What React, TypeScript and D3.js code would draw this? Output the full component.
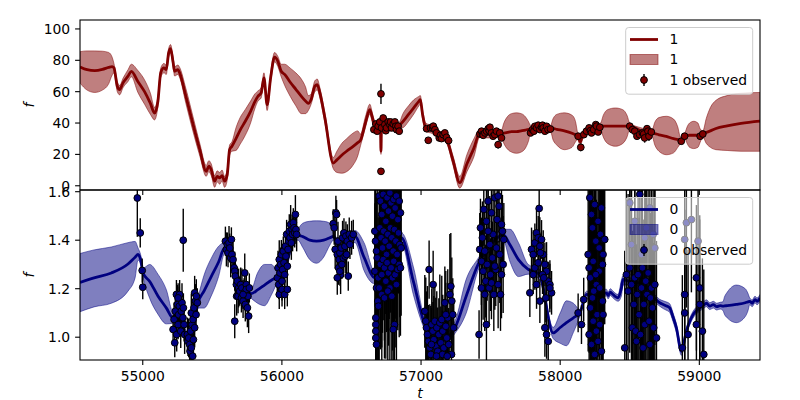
import React from "react";
import * as d3 from "d3";

type Row = [number, number, number, number];
type Obs = [number, number, number];

const xTicks = [55000, 56000, 57000, 58000, 59000];
const topYTicks = [0, 20, 40, 60, 80, 100];
const botYTicks = [1.0, 1.2, 1.4, 1.6];
const xDomain: [number, number] = [54549, 59436];
const topYDomain: [number, number] = [-2.7, 105.7];
const botYDomain: [number, number] = [0.906, 1.607];
const topLabels = ["1", "1", "1 observed"];
const botLabels = ["0", "0", "0 observed"];

// [t, mean, lower, upper]
const model1: Row[] = [
  [54549, 75.8, 65.5, 85.5], [54600, 74.0, 61.0, 86.0], [54655, 73.4, 59.5, 86.0], [54710, 74.2, 61.0, 85.8],
  [54755, 75.5, 65.0, 85.0], [54780, 76.0, 70.5, 82.0], [54793, 75.2, 72.0, 78.0], [54817, 63.5, 60.0, 66.5],
  [54834, 61.3, 58.0, 64.0], [54858, 65.6, 62.5, 68.5], [54894, 69.9, 66.5, 74.0], [54918, 73.0, 69.5, 77.5],
  [54965, 66.5, 59.5, 73.5], [55013, 60.0, 52.0, 67.5], [55055, 52.5, 45.5, 59.0], [55085, 46.4, 42.0, 50.0],
  [55109, 53.9, 50.5, 57.0], [55129, 72.0, 69.0, 75.0], [55152, 75.2, 72.0, 78.0], [55169, 74.1, 71.0, 77.0],
  [55186, 84.7, 82.0, 87.5], [55200, 87.5, 84.5, 90.0], [55217, 79.4, 76.5, 82.5], [55229, 73.0, 70.0, 76.0],
  [55253, 74.1, 71.0, 77.0], [55265, 72.0, 69.0, 75.5], [55310, 57.0, 52.5, 62.0], [55360, 39.6, 35.0, 44.5],
  [55410, 23.0, 19.0, 27.0], [55456, 9.2, 6.0, 13.0], [55475, 12.5, 9.0, 16.0], [55492, 10.3, 6.5, 14.0],
  [55517, 2.9, -1.0, 6.5], [55535, 6.0, 2.5, 9.5], [55553, 5.0, 1.0, 8.5], [55570, 6.5, 3.0, 10.0],
  [55588, 2.9, -1.0, 6.0], [55607, 7.1, 3.5, 10.5], [55624, 23.0, 19.5, 26.0], [55641, 25.2, 22.0, 28.0],
  [55670, 30.0, 22.5, 37.0], [55700, 35.5, 26.5, 43.5], [55736, 41.0, 32.0, 48.5], [55775, 47.5, 40.0, 54.0],
  [55805, 53.5, 49.0, 58.5], [55828, 57.1, 54.0, 60.5], [55851, 59.2, 56.0, 62.5], [55871, 68.8, 66.0, 72.0],
  [55894, 51.7, 48.0, 55.0], [55919, 68.8, 66.0, 72.0], [55947, 82.0, 79.0, 85.0], [55971, 79.4, 76.0, 82.5],
  [55995, 73.0, 69.5, 77.5], [56020, 71.0, 64.0, 77.5], [56060, 66.0, 57.0, 75.0], [56100, 61.5, 51.0, 72.0],
  [56140, 57.0, 46.0, 68.0], [56170, 54.0, 46.0, 63.0], [56190, 52.5, 48.0, 57.5], [56210, 55.0, 52.0, 58.5],
  [56237, 63.5, 60.0, 67.0], [56254, 64.5, 61.0, 68.0], [56273, 59.2, 56.0, 62.5], [56309, 43.2, 40.0, 46.5],
  [56369, 14.5, 11.0, 18.0], [56395, 16.5, 8.5, 22.0], [56430, 19.5, 8.0, 27.0], [56465, 22.0, 9.0, 30.0],
  [56510, 25.0, 13.0, 33.5], [56545, 27.5, 19.0, 35.0], [56565, 29.0, 25.5, 33.0], [56600, 40.0, 37.0, 44.0],
  [56632, 48.5, 45.5, 52.0], [56651, 43.2, 40.0, 46.0], [56668, 38.5, 36.0, 41.0], [56690, 37.5, 35.5, 39.5],
  [56708, 37.5, 35.5, 39.5], [56712, 22.0, 20.0, 24.0], [56716, 37.5, 35.5, 39.5], [56760, 37.0, 35.0, 39.0],
  [56800, 37.5, 35.5, 39.5], [56843, 38.5, 36.5, 40.5], [56870, 41.0, 37.0, 46.0], [56910, 45.5, 41.0, 51.0],
  [56950, 50.0, 46.0, 55.0], [56985, 54.0, 51.0, 57.0], [56995, 54.9, 52.0, 57.5], [57010, 46.0, 43.0, 49.0],
  [57034, 37.0, 34.5, 40.0], [57075, 35.8, 33.5, 38.5], [57130, 32.5, 30.0, 35.0], [57183, 29.4, 27.0, 32.0],
  [57230, 16.0, 13.0, 19.0], [57278, 2.0, -1.5, 6.0], [57330, 14.0, 9.0, 20.0], [57380, 24.0, 18.5, 30.0],
  [57422, 33.7, 31.0, 36.0], [57470, 33.0, 30.5, 35.5], [57518, 32.6, 30.5, 35.0], [57578, 33.0, 31.0, 35.5],
  [57595, 33.5, 27.0, 40.0], [57620, 34.0, 23.5, 44.0], [57650, 34.5, 21.5, 46.0], [57686, 34.5, 20.7, 46.5],
  [57720, 35.0, 21.5, 46.0], [57750, 35.5, 24.0, 44.0], [57772, 36.0, 28.5, 41.0], [57787, 36.0, 33.5, 38.5],
  [57860, 37.0, 35.0, 39.0], [57930, 36.5, 34.5, 38.5], [57950, 36.5, 29.0, 43.0], [57975, 36.0, 26.0, 45.5],
  [58030, 35.0, 23.0, 46.5], [58085, 33.5, 24.5, 45.0], [58110, 32.5, 28.0, 41.0], [58125, 31.6, 29.5, 34.0],
  [58145, 28.0, 25.0, 31.0], [58160, 32.0, 29.5, 34.5], [58220, 36.5, 34.5, 38.5], [58290, 38.0, 36.0, 40.0],
  [58310, 38.0, 31.0, 45.0], [58340, 38.0, 27.0, 48.5], [58397, 38.0, 25.2, 49.6], [58450, 38.0, 27.0, 48.5],
  [58480, 38.0, 31.0, 45.0], [58500, 38.0, 36.0, 40.0], [58580, 35.0, 33.0, 37.0], [58660, 33.5, 31.5, 35.5],
  [58680, 33.3, 26.0, 40.5], [58710, 32.5, 22.0, 43.5], [58763, 31.5, 19.8, 44.3], [58815, 30.0, 21.0, 42.5],
  [58845, 29.5, 24.5, 37.5], [58865, 29.0, 27.0, 31.0], [58898, 31.6, 29.5, 34.0], [58912, 32.0, 27.0, 37.5],
  [58930, 32.2, 24.5, 40.0], [58960, 32.2, 23.7, 41.1], [58990, 32.2, 24.5, 40.0], [59005, 32.0, 27.5, 36.5],
  [59025, 33.0, 31.0, 35.0], [59050, 34.0, 27.0, 43.0], [59080, 35.0, 24.5, 50.0], [59120, 36.5, 23.0, 54.5],
  [59200, 38.2, 22.5, 57.5], [59300, 39.8, 22.0, 59.0], [59436, 41.2, 22.0, 59.5],
];

// [t, f, err]
const observed1: Obs[] = [
  [56661, 35.8, 1.5], [56675, 39.4, 1.5], [56685, 34.8, 1.5], [56692, 38.0, 1.5], [56704, 40.7, 1.5],
  [56712, 58.6, 6.5], [56712, 9.2, 1.5], [56716, 36.9, 1.5], [56728, 43.2, 1.5], [56740, 39.0, 1.5],
  [56747, 35.1, 1.5], [56752, 36.9, 1.5], [56764, 40.7, 1.5], [56776, 39.0, 1.5], [56781, 40.7, 1.5],
  [56788, 36.9, 1.5], [56800, 39.4, 1.5], [56812, 40.7, 1.5], [56819, 38.0, 1.5], [56824, 35.8, 1.5],
  [56835, 38.0, 1.5], [56843, 34.8, 1.5],
  [57040, 36.4, 1.5], [57052, 29.0, 1.5], [57068, 36.9, 1.5], [57083, 36.9, 1.5], [57088, 38.0, 1.5],
  [57100, 35.8, 1.5], [57111, 33.7, 1.5], [57131, 30.5, 1.5], [57140, 32.2, 1.5], [57147, 30.1, 1.5],
  [57159, 32.6, 1.5], [57171, 33.7, 1.5], [57183, 30.9, 1.5], [57198, 28.8, 1.5],
  [57423, 33.0, 1.5], [57435, 34.8, 1.5], [57442, 32.6, 1.5], [57447, 32.2, 1.5], [57459, 33.7, 1.5],
  [57471, 34.8, 1.5], [57483, 36.4, 1.5], [57490, 35.1, 1.5], [57495, 37.3, 1.5], [57506, 33.7, 1.5],
  [57518, 31.6, 1.5], [57530, 32.6, 1.5], [57542, 34.8, 1.5], [57554, 26.2, 2.5], [57566, 33.7, 1.5],
  [57578, 30.5, 1.5],
  [57787, 33.7, 1.5], [57801, 35.8, 1.5], [57811, 34.8, 1.5], [57818, 37.9, 1.5], [57830, 36.9, 1.5],
  [57842, 38.6, 1.5], [57854, 35.8, 1.5], [57866, 37.3, 1.5], [57873, 38.6, 1.5], [57878, 36.9, 1.5],
  [57890, 34.8, 1.5], [57902, 37.9, 1.5], [57913, 35.8, 1.5], [57930, 36.2, 1.5],
  [58129, 31.6, 1.5], [58148, 24.5, 2.5], [58170, 32.6, 1.5], [58189, 34.8, 1.5], [58208, 36.9, 1.5],
  [58218, 35.1, 1.5], [58225, 33.7, 1.5], [58241, 35.8, 1.5], [58256, 39.0, 1.5], [58261, 38.0, 1.5],
  [58273, 34.3, 1.5], [58285, 37.3, 1.5],
  [58500, 38.0, 1.5], [58519, 35.8, 1.5], [58536, 34.8, 1.5], [58552, 31.6, 1.5], [58571, 32.6, 1.5],
  [58591, 33.7, 1.5], [58600, 33.0, 1.5], [58607, 30.5, 3.0], [58624, 36.4, 1.5], [58631, 34.8, 1.5],
  [58638, 31.6, 3.0], [58655, 34.3, 1.5],
  [58870, 28.4, 1.5], [58894, 31.6, 1.5], [59006, 31.6, 1.5], [59025, 33.0, 1.5],
];

const model0: Row[] = [
  [54549, 1.226, 1.105, 1.345], [54650, 1.245, 1.125, 1.360], [54774, 1.265, 1.140, 1.372], [54894, 1.302, 1.190, 1.390],
  [54945, 1.330, 1.245, 1.395], [54966, 1.341, 1.318, 1.368], [54985, 1.320, 1.300, 1.340], [55002, 1.265, 1.248, 1.285],
  [55050, 1.230, 1.160, 1.300], [55109, 1.170, 1.095, 1.260], [55170, 1.120, 1.055, 1.195], [55217, 1.080, 1.058, 1.105],
  [55250, 1.100, 1.080, 1.120], [55300, 1.020, 1.000, 1.040], [55340, 0.990, 0.970, 1.010], [55370, 1.060, 1.040, 1.080],
  [55397, 1.140, 1.120, 1.160], [55440, 1.190, 1.120, 1.255], [55492, 1.250, 1.170, 1.325], [55545, 1.310, 1.250, 1.375],
  [55588, 1.368, 1.345, 1.390], [55630, 1.370, 1.350, 1.390], [55680, 1.250, 1.230, 1.270], [55730, 1.200, 1.180, 1.220],
  [55780, 1.180, 1.160, 1.200], [55825, 1.195, 1.140, 1.265], [55875, 1.215, 1.130, 1.300], [55925, 1.235, 1.175, 1.300],
  [55971, 1.250, 1.230, 1.270], [56020, 1.280, 1.260, 1.300], [56070, 1.380, 1.360, 1.400], [56115, 1.420, 1.400, 1.445],
  [56150, 1.415, 1.370, 1.470], [56200, 1.400, 1.320, 1.478], [56249, 1.396, 1.305, 1.480], [56300, 1.400, 1.330, 1.478],
  [56345, 1.410, 1.380, 1.470], [56369, 1.416, 1.400, 1.430], [56393, 1.390, 1.370, 1.410], [56420, 1.360, 1.340, 1.380],
  [56470, 1.400, 1.380, 1.420], [56525, 1.416, 1.390, 1.440], [56590, 1.330, 1.275, 1.390], [56668, 1.245, 1.220, 1.270],
  [56760, 1.300, 1.280, 1.320], [56860, 1.409, 1.385, 1.430], [56945, 1.230, 1.175, 1.290], [57027, 1.052, 1.030, 1.075],
  [57130, 0.980, 0.960, 1.000], [57243, 1.038, 1.015, 1.065], [57325, 1.170, 1.100, 1.240], [57410, 1.300, 1.275, 1.325],
  [57500, 1.380, 1.360, 1.400], [57590, 1.423, 1.400, 1.445], [57640, 1.380, 1.310, 1.445], [57700, 1.320, 1.250, 1.390],
  [57770, 1.280, 1.260, 1.300], [57850, 1.260, 1.240, 1.280], [57949, 1.018, 0.995, 1.040], [58000, 1.040, 0.975, 1.100],
  [58045, 1.060, 0.965, 1.150], [58095, 1.080, 1.020, 1.140], [58141, 1.100, 1.085, 1.115], [58189, 1.176, 1.160, 1.190],
  [58250, 1.170, 1.155, 1.185], [58300, 1.180, 1.165, 1.195], [58332, 1.183, 1.170, 1.198], [58345, 1.172, 1.158, 1.186],
  [58360, 1.186, 1.172, 1.200], [58380, 1.176, 1.162, 1.190], [58395, 1.168, 1.154, 1.182], [58416, 1.162, 1.148, 1.176],
  [58440, 1.203, 1.170, 1.235], [58452, 1.238, 1.215, 1.255], [58500, 1.230, 1.215, 1.245], [58600, 1.220, 1.205, 1.235],
  [58680, 1.160, 1.145, 1.175], [58715, 1.142, 1.128, 1.156], [58740, 1.135, 1.118, 1.150], [58760, 1.130, 1.112, 1.146],
  [58787, 1.121, 1.102, 1.138], [58810, 1.085, 1.066, 1.102], [58835, 1.039, 1.020, 1.056], [58871, 0.942, 0.925, 0.960],
  [58907, 1.025, 1.010, 1.040], [58955, 1.093, 1.079, 1.107], [59000, 1.120, 1.106, 1.134], [59030, 1.132, 1.118, 1.146],
  [59051, 1.140, 1.126, 1.154], [59075, 1.128, 1.114, 1.142], [59100, 1.134, 1.120, 1.148], [59125, 1.126, 1.112, 1.140],
  [59150, 1.130, 1.116, 1.144], [59170, 1.128, 1.110, 1.146], [59180, 1.129, 1.095, 1.165], [59200, 1.130, 1.080, 1.185],
  [59266, 1.135, 1.060, 1.215], [59330, 1.142, 1.085, 1.200], [59350, 1.146, 1.110, 1.180], [59362, 1.148, 1.134, 1.162],
  [59380, 1.140, 1.126, 1.154], [59400, 1.155, 1.141, 1.169], [59415, 1.148, 1.134, 1.162], [59436, 1.162, 1.148, 1.176],
];

const observed0: Obs[] = [
  // 54960-55300
  [54961, 1.574, 0.16], [54982, 1.430, 0.06], [54996, 1.275, 0.05], [55000, 1.206, 0.05], [55291, 1.400, 0.13],
  [55218, 1.032, 0.06], [55225, 1.073, 0.07], [55230, 0.977, 0.06], [55234, 1.107, 0.08], [55242, 1.176, 0.06],
  [55244, 1.011, 0.07], [55249, 1.135, 0.08], [55254, 1.052, 0.06], [55258, 1.093, 0.07], [55263, 1.128, 0.08],
  [55265, 1.176, 0.06], [55273, 1.025, 0.07], [55277, 1.107, 0.06], [55282, 1.142, 0.08], [55289, 1.080, 0.07],
  [55292, 1.121, 0.06], [55297, 1.052, 0.07], [55301, 1.011, 0.08], [55254, 1.162, 0.06],
  [55321, 1.011, 0.07], [55325, 0.983, 0.06], [55330, 0.997, 0.08], [55337, 0.970, 0.07], [55340, 0.942, 0.06],
  [55344, 1.025, 0.07], [55349, 1.100, 0.08], [55349, 0.956, 0.06], [55354, 1.052, 0.07], [55359, 0.922, 0.06],
  [55361, 1.073, 0.08], [55364, 0.990, 0.07], [55368, 1.121, 0.06], [55373, 1.183, 0.07], [55373, 1.039, 0.08],
  [55378, 1.149, 0.07], [55383, 1.093, 0.06], [55385, 1.169, 0.07], [55392, 1.142, 0.06],
  // 55590-55770
  [55594, 1.396, 0.06], [55601, 1.362, 0.07], [55608, 1.382, 0.05], [55613, 1.348, 0.06], [55620, 1.389, 0.07],
  [55625, 1.368, 0.06], [55632, 1.327, 0.08], [55637, 1.403, 0.05], [55641, 1.341, 0.06], [55649, 1.320, 0.07],
  [55656, 1.286, 0.06], [55661, 1.272, 0.08], [55665, 1.252, 0.07], [55673, 1.217, 0.06], [55675, 1.169, 0.08],
  [55680, 1.231, 0.06], [55685, 1.169, 0.07], [55689, 1.203, 0.08], [55697, 1.190, 0.06], [55704, 1.217, 0.07],
  [55709, 1.162, 0.06], [55713, 1.203, 0.08], [55721, 1.149, 0.07], [55728, 1.183, 0.06], [55733, 1.265, 0.08],
  [55737, 1.135, 0.07], [55744, 1.217, 0.06], [55744, 1.197, 0.07], [55752, 1.121, 0.08], [55756, 1.169, 0.06],
  [55761, 1.087, 0.07], [55766, 1.203, 0.06], [55661, 1.066, 0.07], [55721, 1.176, 0.06],
  // 55960-56110
  [55967, 1.245, 0.06], [55972, 1.286, 0.07], [55977, 1.217, 0.06], [55981, 1.320, 0.08], [55986, 1.265, 0.06],
  [55991, 1.300, 0.07], [55996, 1.341, 0.06], [56001, 1.231, 0.08], [56005, 1.279, 0.07], [56010, 1.355, 0.06],
  [56015, 1.307, 0.07], [56020, 1.258, 0.08], [56025, 1.375, 0.06], [56029, 1.334, 0.07], [56034, 1.424, 0.06],
  [56039, 1.293, 0.08], [56044, 1.362, 0.07], [56049, 1.396, 0.06], [56053, 1.437, 0.07], [56058, 1.410, 0.06],
  [56063, 1.465, 0.08], [56068, 1.389, 0.07], [56073, 1.444, 0.06], [56077, 1.424, 0.07], [56082, 1.472, 0.06],
  [56087, 1.451, 0.07], [56092, 1.430, 0.06], [56097, 1.506, 0.08], [56101, 1.444, 0.06], [56106, 1.424, 0.07],
  [55981, 1.176, 0.06], [56001, 1.197, 0.07], [56020, 1.176, 0.06], [56039, 1.197, 0.07],
  // 56370-56510
  [56369, 1.468, 0.06], [56376, 1.451, 0.07], [56383, 1.362, 0.08], [56388, 1.513, 0.07], [56393, 1.506, 0.06],
  [56398, 1.341, 0.07], [56403, 1.396, 0.08], [56407, 1.286, 0.07], [56412, 1.320, 0.06], [56417, 1.348, 0.07],
  [56422, 1.258, 0.08], [56426, 1.368, 0.07], [56431, 1.300, 0.06], [56436, 1.410, 0.07], [56441, 1.327, 0.08],
  [56446, 1.430, 0.06], [56453, 1.375, 0.07], [56455, 1.334, 0.07], [56460, 1.417, 0.06], [56465, 1.341, 0.08],
  [56470, 1.396, 0.07], [56477, 1.252, 0.06], [56484, 1.424, 0.07], [56489, 1.382, 0.06], [56501, 1.410, 0.07],
  [56513, 1.424, 0.06], [56398, 1.245, 0.07], [56417, 1.272, 0.06],
  // 56660-56860
  [56675, 1.080, 0.30], [56675, 1.052, 0.25], [56675, 1.025, 0.35], [56675, 0.997, 0.28], [56680, 0.970, 0.30],
  [56668, 1.437, 0.25], [56673, 1.396, 0.30], [56680, 1.355, 0.22], [56685, 1.327, 0.35], [56668, 1.272, 0.28],
  [56680, 1.203, 0.30], [56692, 1.245, 0.25], [56692, 1.135, 0.32], [56699, 1.582, 0.30], [56708, 1.561, 0.35],
  [56718, 1.506, 0.28], [56728, 1.589, 0.40], [56737, 1.540, 0.30], [56747, 1.478, 0.25], [56756, 1.575, 0.35],
  [56766, 1.520, 0.30], [56776, 1.595, 0.28], [56785, 1.554, 0.35], [56795, 1.499, 0.30], [56804, 1.568, 0.25],
  [56814, 1.533, 0.32], [56823, 1.582, 0.28], [56833, 1.485, 0.30], [56843, 1.561, 0.35], [56852, 1.513, 0.25],
  [56704, 1.451, 0.30], [56713, 1.410, 0.28], [56723, 1.368, 0.35], [56732, 1.437, 0.25], [56742, 1.396, 0.30],
  [56752, 1.341, 0.32], [56761, 1.424, 0.28], [56771, 1.375, 0.30], [56780, 1.451, 0.35], [56790, 1.410, 0.25],
  [56800, 1.355, 0.30], [56809, 1.444, 0.28], [56819, 1.396, 0.32], [56828, 1.341, 0.30], [56838, 1.430, 0.25],
  [56847, 1.382, 0.30], [56857, 1.368, 0.28], [56708, 1.300, 0.35], [56718, 1.258, 0.30], [56728, 1.320, 0.25],
  [56737, 1.286, 0.30], [56747, 1.231, 0.32], [56756, 1.307, 0.28], [56766, 1.265, 0.30], [56776, 1.203, 0.35],
  [56785, 1.286, 0.25], [56795, 1.245, 0.30], [56804, 1.313, 0.28], [56814, 1.258, 0.30], [56823, 1.217, 0.32],
  [56833, 1.279, 0.25], [56843, 1.300, 0.30], [56852, 1.286, 0.28], [56718, 1.176, 0.30], [56737, 1.162, 0.25],
  [56761, 1.190, 0.30], [56790, 1.169, 0.28], [56809, 1.052, 0.20], [56800, 1.032, 0.22], [56699, 1.203, 0.30],
  [56689, 1.149, 0.25], [56694, 1.128, 0.30],
  // 57020-57240
  [57058, 1.279, 0.12], [57087, 1.217, 0.14], [57027, 1.107, 0.15], [57034, 1.066, 0.18], [57039, 1.039, 0.15],
  [57046, 1.011, 0.20], [57053, 0.983, 0.15], [57063, 0.956, 0.18], [57070, 0.929, 0.20], [57077, 1.052, 0.15],
  [57085, 1.025, 0.12], [57092, 0.990, 0.18], [57099, 1.066, 0.15], [57106, 0.963, 0.20], [57113, 1.039, 0.15],
  [57120, 0.942, 0.18], [57128, 1.011, 0.15], [57135, 1.059, 0.20], [57142, 0.977, 0.15], [57149, 1.073, 0.18],
  [57156, 1.025, 0.15], [57164, 0.956, 0.20], [57171, 1.142, 0.15], [57178, 1.045, 0.18], [57185, 0.997, 0.15],
  [57192, 1.080, 0.20], [57199, 0.970, 0.15], [57207, 1.176, 0.25], [57214, 1.210, 0.22], [57221, 1.149, 0.18],
  [57228, 1.093, 0.15], [57235, 1.039, 0.12], [57219, 0.929, 0.15], [57154, 0.929, 0.18], [57111, 0.922, 0.15],
  [57075, 0.970, 0.15], [57178, 1.093, 0.18], [57188, 0.922, 0.15],
  // 57410-57600
  [57417, 1.011, 0.10], [57422, 1.362, 0.15], [57427, 1.451, 0.12], [57434, 1.313, 0.18], [57441, 1.410, 0.15],
  [57446, 1.272, 0.20], [57451, 1.527, 0.15], [57458, 1.355, 0.18], [57465, 1.231, 0.15], [57470, 1.478, 0.20],
  [57475, 1.300, 0.15], [57482, 1.561, 0.18], [57489, 1.203, 0.15], [57494, 1.382, 0.20], [57499, 1.258, 0.15],
  [57506, 1.513, 0.18], [57513, 1.327, 0.15], [57518, 1.424, 0.20], [57523, 1.176, 0.15], [57530, 1.575, 0.18],
  [57537, 1.279, 0.15], [57542, 1.368, 0.20], [57547, 1.485, 0.15], [57554, 1.217, 0.18], [57561, 1.540, 0.15],
  [57566, 1.341, 0.20], [57571, 1.176, 0.15], [57578, 1.258, 0.18], [57585, 1.437, 0.15], [57590, 1.300, 0.20],
  [57595, 1.403, 0.15], [57434, 1.203, 0.18], [57458, 1.176, 0.15], [57482, 1.437, 0.20], [57506, 1.224, 0.15],
  [57530, 1.293, 0.18], [57554, 1.582, 0.15], [57578, 1.465, 0.20], [57470, 1.052, 0.15],
  // 57780-57940
  [57849, 1.531, 0.10], [57794, 1.362, 0.09], [57806, 1.341, 0.10], [57818, 1.389, 0.08], [57830, 1.430, 0.10],
  [57842, 1.410, 0.09], [57854, 1.375, 0.12], [57866, 1.403, 0.08], [57878, 1.341, 0.10], [57890, 1.300, 0.09],
  [57902, 1.272, 0.12], [57914, 1.231, 0.08], [57926, 1.217, 0.10], [57938, 1.183, 0.09], [57782, 1.183, 0.10],
  [57806, 1.258, 0.08], [57830, 1.217, 0.10], [57854, 1.149, 0.09], [57890, 1.039, 0.12], [57902, 1.011, 0.10],
  [57914, 0.983, 0.09], [57926, 1.203, 0.10], [57873, 1.258, 0.08], [57897, 1.162, 0.10], [57818, 1.286, 0.09],
  [57842, 1.307, 0.10], [57858, 1.348, 0.08], [57882, 1.245, 0.10],
  // 58120-58320
  [58129, 1.100, 0.08], [58153, 1.052, 0.08], [58169, 1.155, 0.09], [58201, 1.341, 0.40], [58208, 1.286, 0.35],
  [58213, 1.575, 0.45], [58217, 1.245, 0.40], [58225, 1.506, 0.35], [58232, 1.451, 0.45], [58237, 1.313, 0.40],
  [58241, 1.190, 0.35], [58248, 1.547, 0.45], [58256, 1.396, 0.40], [58260, 1.217, 0.35], [58265, 1.093, 0.45],
  [58272, 1.478, 0.40], [58280, 1.272, 0.35], [58284, 1.052, 0.45], [58289, 1.424, 0.40], [58296, 1.533, 0.35],
  [58304, 1.149, 0.45], [58308, 1.341, 0.40], [58313, 1.403, 0.35], [58208, 1.011, 0.45], [58225, 0.970, 0.40],
  [58248, 0.929, 0.35], [58272, 0.983, 0.45], [58296, 0.942, 0.40], [58217, 1.121, 0.35], [58237, 1.066, 0.45],
  [58260, 1.025, 0.40], [58284, 1.203, 0.35], [58308, 1.093, 0.45], [58232, 1.162, 0.40], [58256, 1.258, 0.35],
  [58280, 1.368, 0.45], [58304, 1.300, 0.40], [58320, 1.403, 0.35],
  // 58460-58700
  [58464, 0.956, 0.40], [58476, 1.258, 0.45], [58488, 1.190, 0.40], [58500, 1.286, 0.35], [58512, 1.217, 0.45],
  [58519, 1.039, 0.40], [58529, 1.135, 0.35], [58536, 1.245, 0.45], [58543, 1.025, 0.40], [58553, 1.176, 0.35],
  [58560, 1.258, 0.45], [58567, 1.093, 0.40], [58577, 1.011, 0.35], [58584, 1.203, 0.45], [58591, 1.286, 0.40],
  [58601, 1.135, 0.35], [58608, 1.052, 0.45], [58615, 1.231, 0.40], [58624, 1.176, 0.35], [58632, 1.265, 0.45],
  [58639, 1.066, 0.40], [58648, 1.162, 0.35], [58656, 1.203, 0.45], [58663, 1.121, 0.40], [58672, 1.039, 0.35],
  [58680, 1.217, 0.45], [58692, 0.997, 0.40], [58644, 0.970, 0.35], [58596, 0.956, 0.45], [58548, 0.983, 0.40],
  [58500, 1.554, 0.35], [58536, 1.478, 0.45], [58572, 1.589, 0.40], [58608, 1.410, 0.35], [58644, 1.533, 0.45],
  [58680, 1.368, 0.40], [58512, 1.382, 0.35], [58584, 1.341, 0.45], [58620, 1.451, 0.40], [58668, 1.424, 0.35],
  // 58870-59040
  [58895, 1.176, 0.35], [58895, 1.100, 0.30], [58919, 1.011, 0.35], [58979, 1.245, 0.30], [58979, 1.052, 0.35],
  [59003, 1.203, 0.30], [59003, 1.135, 0.35], [59022, 1.025, 0.30], [59032, 0.929, 0.35], [58878, 0.956, 0.30],
  [58907, 1.472, 0.35], [58943, 1.485, 0.30], [58991, 1.396, 0.35], [58895, 1.403, 0.30],
];

const FONT = "DejaVu Sans, sans-serif";
const FS = 13.9;
const L = 80, R = 760;

interface PanelProps {
  id: string;
  rows: Row[];
  obs: Obs[];
  yDomain: [number, number];
  top: number;
  bottom: number;
  lineColor: string;
  yTicks: number[];
  fmt: (v: number) => string;
  labels: string[];
  legendAlpha: number;
  xLabels: boolean;
}

function Panel(p: PanelProps) {
  const x = d3.scaleLinear().domain(xDomain).range([L, R]);
  const y = d3.scaleLinear().domain(p.yDomain).range([p.bottom, p.top]);
  const area = d3.area<Row>().x(d => x(d[0])).y0(d => y(d[2])).y1(d => y(d[3])).curve(d3.curveMonotoneX);
  const line = d3.line<Row>().x(d => x(d[0])).y(d => y(d[1])).curve(d3.curveMonotoneX);
  const lx = 625.7, ly = p.top + 7.5, lw = 127, lh = 66.7;
  const rowY = [ly + 12, ly + 32, ly + 52.5];
  return (
    <g>
      <defs>
        <clipPath id={p.id}>
          <rect x={L} y={p.top} width={R - L} height={p.bottom - p.top} />
        </clipPath>
      </defs>
      <g clipPath={`url(#${p.id})`}>
        <path d={area(p.rows) || ""} fill={p.lineColor} fillOpacity={0.5} stroke={p.lineColor} strokeOpacity={0.5} strokeWidth={1} />
        <path d={line(p.rows) || ""} fill="none" stroke={p.lineColor} strokeWidth={2.8} strokeLinejoin="round" />
        {p.obs.map((d, i) => (
          <line key={"e" + i} x1={x(d[0])} x2={x(d[0])} y1={y(d[1] - d[2])} y2={y(d[1] + d[2])} stroke="#000" strokeWidth={1.4} />
        ))}
        {p.obs.map((d, i) => (
          <circle key={"c" + i} cx={x(d[0])} cy={y(d[1])} r={3.4} fill={p.lineColor} stroke="#000" strokeWidth={1} />
        ))}
      </g>
      <rect x={L} y={p.top} width={R - L} height={p.bottom - p.top} fill="none" stroke="#000" strokeWidth={1.1} />
      {p.yTicks.map(t => (
        <g key={"y" + t}>
          <line x1={L - 4.9} x2={L} y1={y(t)} y2={y(t)} stroke="#000" strokeWidth={1.1} />
          <text x={L - 9.8} y={y(t)} dy="0.35em" textAnchor="end" fontFamily={FONT} fontSize={FS} fill="#000">{p.fmt(t)}</text>
        </g>
      ))}
      {xTicks.map(t => (
        <g key={"x" + t}>
          <line x1={x(t)} x2={x(t)} y1={p.bottom} y2={p.bottom + 4.9} stroke="#000" strokeWidth={1.1} />
          {p.xLabels && (
            <text x={x(t)} y={p.bottom + 21} textAnchor="middle" fontFamily={FONT} fontSize={FS} fill="#000">{t}</text>
          )}
        </g>
      ))}
      <text transform={`translate(34,${(p.top + p.bottom) / 2}) rotate(-90)`} textAnchor="middle" fontFamily={FONT} fontSize={FS} fontStyle="italic" fill="#000">f</text>
      <rect x={lx} y={ly} width={lw} height={lh} rx={3} fill="#fff" fillOpacity={p.legendAlpha} stroke="#cccccc" strokeWidth={1} />
      <line x1={630} x2={658} y1={rowY[0]} y2={rowY[0]} stroke={p.lineColor} strokeWidth={2.8} />
      <rect x={630} y={rowY[1] - 5} width={28} height={10} fill={p.lineColor} fillOpacity={0.5} stroke={p.lineColor} strokeOpacity={0.5} />
      <line x1={644} x2={644} y1={rowY[2] - 6} y2={rowY[2] + 6} stroke="#000" strokeWidth={1.4} />
      <circle cx={644} cy={rowY[2]} r={3.4} fill={p.lineColor} stroke="#000" strokeWidth={1} />
      {p.labels.map((s, i) => (
        <text key={"l" + i} x={669.5} y={rowY[i]} dy="0.35em" fontFamily={FONT} fontSize={FS} fill="#000">{s}</text>
      ))}
    </g>
  );
}

export default function App() {
  return (
    <svg width={800} height={400} style={{ position: "fixed", left: 0, top: 0, background: "#fff" }}>
      <rect x={0} y={0} width={800} height={400} fill="#fff" />
      <Panel id="clipTop" rows={model1} obs={observed1} yDomain={topYDomain} top={20} bottom={190}
        lineColor="#800000" yTicks={topYTicks} fmt={v => String(v)} labels={topLabels} legendAlpha={0.8} xLabels={false} />
      <Panel id="clipBot" rows={model0} obs={observed0} yDomain={botYDomain} top={190} bottom={360}
        lineColor="#000080" yTicks={botYTicks} fmt={v => v.toFixed(1)} labels={botLabels} legendAlpha={0.55} xLabels={true} />
      <text x={420} y={398} textAnchor="middle" fontFamily={FONT} fontSize={FS} fontStyle="italic" fill="#000">t</text>
    </svg>
  );
}
